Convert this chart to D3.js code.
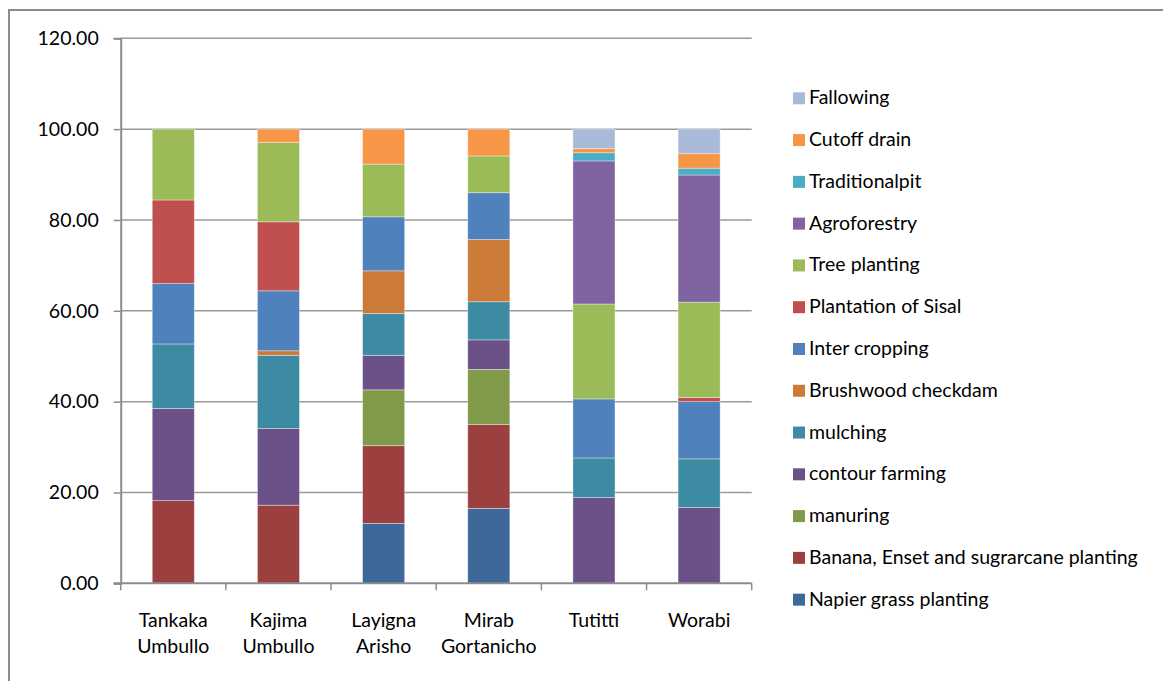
<!DOCTYPE html>
<html><head><meta charset="utf-8">
<script src="https://cdn.jsdelivr.net/npm/d3@7/dist/d3.min.js"></script>
<style>html,body{margin:0;padding:0;background:#fff;}svg{display:block;font-family:Lato,"Liberation Sans",sans-serif;}</style>
</head><body><svg id="c" width="1163" height="681"></svg>
<script>
const categories = [["Tankaka","Umbullo"],["Kajima","Umbullo"],["Layigna","Arisho"],["Mirab","Gortanicho"],["Tutitti"],["Worabi"]];
const seriesNames = ["Napier grass planting","Banana, Enset and sugrarcane planting","manuring","contour farming","mulching","Brushwood checkdam","Inter cropping","Plantation of Sisal","Tree planting","Agroforestry","Traditionalpit","Cutoff drain","Fallowing"];
const seriesColors = ["#3F689A","#9C403F","#809A49","#6A5187","#3D8BA2","#CB7A38","#4F81BD","#C0504D","#9BBB59","#8064A2","#4BACC6","#F79646","#A9BAD8"];
const napier      = [0,    0,    13.2, 16.5, 0,    0];
const banana      = [18.2, 17.2, 17.1, 18.5, 0,    0];
const manuring    = [0,    0,    12.3, 12.1, 0,    0];
const contour     = [20.3, 16.9, 7.6,  6.5,  18.9, 16.7];
const mulching    = [14.2, 16.1, 9.2,  8.4,  8.7,  10.7];
const brushwood   = [0,    1.0,  9.4,  13.7, 0,    0];
const intercrop   = [13.3, 13.2, 11.9, 10.3, 13.0, 12.6];
const sisal       = [18.4, 15.2, 0,    0,    0,    0.9];
const tree        = [15.6, 17.5, 11.6, 8.1,  20.9, 21.0];
const agroforestry= [0,    0,    0,    0,    31.5, 28.0];
const tradpit     = [0,    0,    0,    0,    1.8,  1.5];
const cutoff      = [0,    2.9,  7.7,  5.9,  0.9,  3.2];
const fallowing   = [0,    0,    0,    0,    4.3,  5.4];
const yTicks = [0,20,40,60,80,100,120];

const seriesValues = [napier,banana,manuring,contour,mulching,brushwood,intercrop,sisal,tree,agroforestry,tradpit,cutoff,fallowing];
const FS = 19.5;
const svg = d3.select("#c");
const L = 120.7, R = 751.7, T = 38.3, B = 583.3;
const y = d3.scaleLinear().domain([0,120]).range([B,T]);
const x = d3.scaleBand().domain(d3.range(categories.length)).range([L,R]).paddingInner(0.6).paddingOuter(0.3);
const xb = d3.scaleBand().domain(d3.range(categories.length)).range([L,R]);

// outer border
svg.append("rect").attr("x",9).attr("y",10).attr("width",1200).attr("height",700)
  .attr("fill","none").attr("stroke","#8c8c8c").attr("stroke-width",2);

// gridlines
svg.append("g").selectAll("line").data(yTicks.filter(d=>d>0)).join("line")
  .attr("x1",L).attr("x2",R).attr("y1",d=>y(d)).attr("y2",d=>y(d))
  .attr("stroke","#9a9a9a").attr("stroke-width",1.5);

// y axis
const yAxis = d3.axisLeft(y).tickValues(yTicks).tickSize(7).tickPadding(15).tickFormat(d3.format(".2f"));
const gy = svg.append("g").attr("transform",`translate(${L},0)`).call(yAxis);
gy.select(".domain").attr("stroke","#8c8c8c").attr("stroke-width",2);
gy.selectAll(".tick line").attr("stroke","#8c8c8c").attr("stroke-width",1.5);
gy.selectAll(".tick text").attr("font-size",FS).attr("fill","#000").attr("font-family","Lato");

// stacked bars
const rows = categories.map((c,i)=>{const o={i}; seriesNames.forEach((s,k)=>o[s]=seriesValues[k][i]); return o;});
const stack = d3.stack().keys(seriesNames)(rows);
svg.append("g").selectAll("g").data(stack).join("g")
  .attr("fill",(d,k)=>seriesColors[k])
  .selectAll("rect").data(d=>d.filter(p=>p[1]-p[0]>0)).join("rect")
  .attr("x",d=>x(d.data.i)).attr("width",x.bandwidth())
  .attr("y",d=>y(d[1])).attr("height",d=>y(d[0])-y(d[1]))
  .attr("stroke","rgba(255,255,255,0.45)").attr("stroke-width",0.8);

// x axis
const xAxisG = svg.append("g");
xAxisG.append("line").attr("x1",L-7).attr("x2",R).attr("y1",B).attr("y2",B).attr("stroke","#8c8c8c").attr("stroke-width",2);
const bounds = d3.range(categories.length+1).map(i=> i<categories.length ? xb(i) : R);
xAxisG.selectAll("line.tk").data(bounds).join("line").attr("class","tk")
  .attr("x1",d=>d).attr("x2",d=>d).attr("y1",B).attr("y2",B+7).attr("stroke","#8c8c8c").attr("stroke-width",1.5);
const lab = xAxisG.selectAll("text").data(categories).join("text")
  .attr("text-anchor","middle").attr("font-size",FS).attr("fill","#000")
  .attr("transform",(d,i)=>`translate(${x(i)+x.bandwidth()/2},627)`);
lab.selectAll("tspan").data(d=>d).join("tspan").attr("x",0).attr("y",(d,j)=>j*25.5).text(d=>d);

// legend
const legendOrder = d3.range(seriesNames.length).reverse();
const lg = svg.append("g").selectAll("g").data(legendOrder).join("g")
  .attr("transform",(k,j)=>`translate(793,${104.3 + j*41.78})`);
lg.append("rect").attr("x",0).attr("y",-12).attr("width",12).attr("height",12).attr("fill",k=>seriesColors[k]);
lg.append("text").attr("x",16).attr("y",0).attr("font-size",FS).attr("fill","#000").text(k=>seriesNames[k]);
</script></body></html>
